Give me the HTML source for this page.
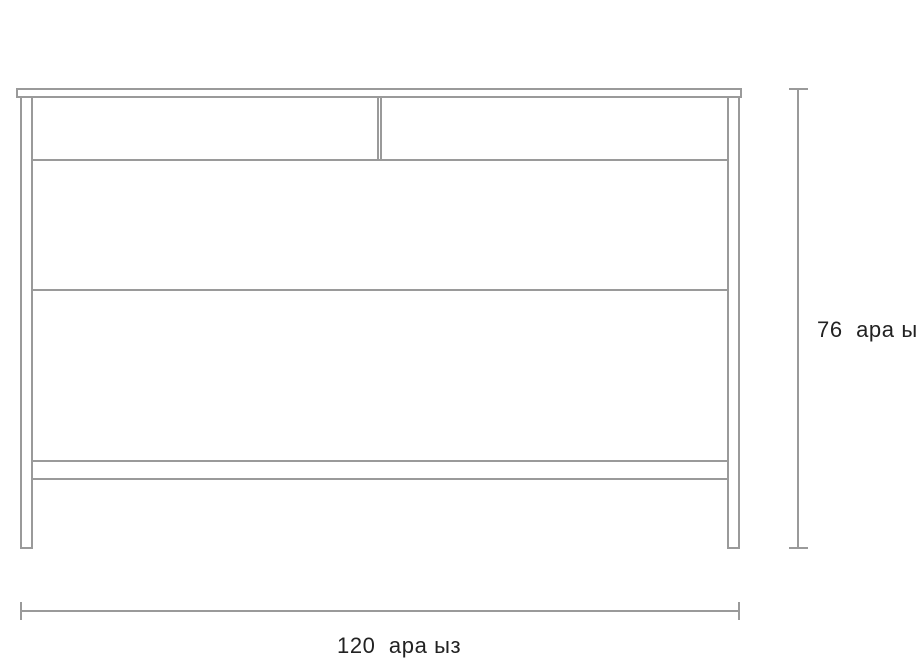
<!DOCTYPE html>
<html><head><meta charset="utf-8"><style>
html,body{margin:0;padding:0;background:#fff;width:916px;height:666px;overflow:hidden}
svg{display:block}
text{font-family:"Liberation Sans","DejaVu Sans",sans-serif;fill:#222;font-size:22px;white-space:pre;letter-spacing:0.6px}
</style></head><body>
<svg width="916" height="666" viewBox="0 0 916 666">
<g fill="none" stroke="#9a9a9a" stroke-width="2">
<rect x="17" y="89" width="724" height="8"/>
<rect x="21" y="97" width="11" height="451"/>
<rect x="728" y="97" width="11" height="451"/>
<line x1="32" y1="160" x2="728" y2="160"/>
<rect x="378" y="97" width="3" height="63"/>
<line x1="32" y1="290" x2="728" y2="290"/>
<line x1="32" y1="461" x2="728" y2="461"/>
<line x1="32" y1="479" x2="728" y2="479"/>
<line x1="798" y1="89" x2="798" y2="548"/>
<line x1="789" y1="89" x2="808" y2="89"/>
<line x1="789" y1="548" x2="808" y2="548"/>
<line x1="21" y1="611" x2="739" y2="611"/>
<line x1="21" y1="602" x2="21" y2="620"/>
<line x1="739" y1="602" x2="739" y2="620"/>
</g>
<text x="817" y="337" xml:space="preserve">76  ара ы</text>
<text x="337" y="653" xml:space="preserve">120  ара ыз</text>
</svg>
</body></html>
